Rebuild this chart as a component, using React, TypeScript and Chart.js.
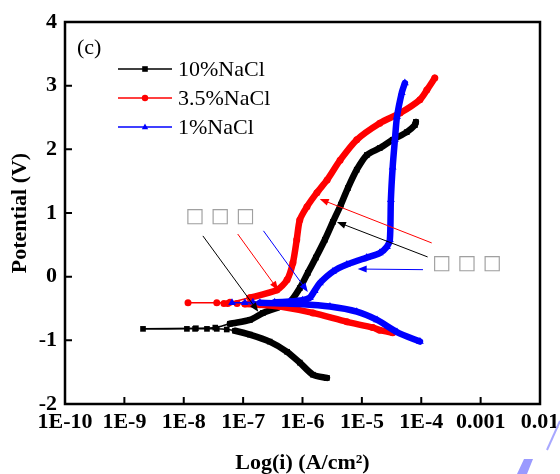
import React, { useEffect, useRef } from 'react';
import { Chart, registerables } from 'chart.js';

Chart.register(...registerables);

const SERIF = "'Liberation Serif', 'Times New Roman', serif";

// ---- series ----
const seriesLabels = ['10%NaCl', '3.5%NaCl', '1%NaCl'];
const seriesColors = ['#000000', '#ff0000', '#0000ff'];
const seriesMarkers = ['rect', 'circle', 'triangle'];

// 10% NaCl (cathodic end -> Ecorr -> anodic end)
const nacl10Current = [
  2.58e-6, 1.5e-6, 9.0e-7, 5.5e-7, 2.8e-7, 1.3e-7, 7.3e-8,
  5.3e-8, 3.6e-8, 2.46e-8, 1.55e-8, 1.13e-8, 2.06e-9,
  1.6e-8, 3.4e-8,
  6.0e-8, 1.3e-7, 2.15e-7, 3.7e-7, 6.1e-7, 9.0e-7, 1.23e-6, 1.68e-6, 2.38e-6, 3.25e-6,
  4.43e-6, 5.8e-6, 8.2e-6, 1.21e-5, 2.0e-5, 3.3e-5, 5.7e-5, 7.8e-5, 8.1e-5,
];
const nacl10Potential = [
  -1.59, -1.54, -1.35, -1.18, -1.02, -0.91, -0.85,
  -0.83, -0.82, -0.82, -0.82, -0.82, -0.82,
  -0.81, -0.8,
  -0.74, -0.68, -0.57, -0.49, -0.4, -0.18, 0.06, 0.3, 0.58, 0.86,
  1.13, 1.39, 1.68, 1.91, 2.02, 2.15, 2.27, 2.38, 2.43,
];

// 3.5% NaCl
const nacl35Current = [
  3.3e-5, 2.0e-5, 1.53e-5, 5.6e-6, 1.5e-6, 4.2e-7,
  1.9e-7, 1.07e-7, 7.9e-8, 5.5e-8, 4.75e-8, 3.6e-8, 1.18e-8,
  6.0e-8, 1.3e-7,
  3.7e-7, 5.5e-7, 6.9e-7, 8.0e-7, 9.0e-7, 1.19e-6, 1.75e-6, 2.6e-6, 4.3e-6, 8.2e-6,
  2.0e-5, 4.4e-5, 9.5e-5, 1.24e-4, 1.69e-4,
];
const nacl35Potential = [
  -0.88, -0.84, -0.8, -0.71, -0.57, -0.47,
  -0.44, -0.43, -0.42, -0.42, -0.42, -0.41, -0.41,
  -0.4, -0.33,
  -0.21, -0.05, 0.22, 0.58, 0.89, 1.1, 1.32, 1.52, 1.83, 2.15,
  2.41, 2.57, 2.78, 2.93, 3.12,
];

// 1% NaCl
const nacl1Current = [
  9.5e-5, 3.9e-5, 1.8e-5, 8.2e-6, 2.9e-6, 9.0e-7, 4.2e-7, 1.92e-7, 1.07e-7, 6.5e-8,
  1.46e-7, 3.4e-7, 6.1e-7, 1.0e-6, 1.33e-6, 1.6e-6, 1.96e-6, 3.25e-6, 5.6e-6, 1.21e-5,
  2.0e-5, 2.64e-5, 2.96e-5, 3.08e-5, 3.3e-5, 3.6e-5, 3.9e-5, 4.7e-5, 5.3e-5,
];
const nacl1Potential = [
  -1.02, -0.87, -0.68, -0.55, -0.47, -0.43, -0.42, -0.41, -0.41, -0.41,
  -0.4, -0.4, -0.39, -0.37, -0.33, -0.22, -0.1, 0.08, 0.19, 0.3,
  0.37, 0.47, 0.58, 1.21, 1.72, 2.15, 2.51, 2.89, 3.04,
];

// ---- axes ----
const xTickValues = [1e-10, 1e-9, 1e-8, 1e-7, 1e-6, 1e-5, 1e-4, 1e-3, 1e-2];
const xTickLabels = ['1E-10', '1E-9', '1E-8', '1E-7', '1E-6', '1E-5', '1E-4', '0.001', '0.01'];
const yTickValues = [-2, -1, 0, 1, 2, 3, 4];
const yTickLabels = ['-2', '-1', '0', '1', '2', '3', '4'];
const xTitle = 'Log(i) (A/cm²)';
const yTitle = 'Potential (V)';

// ---- annotations (data coordinates) ----
const panelLabel = '(c)';
const noteText = '□ □ □';
const notePositions = [
  { x: 4.1e-8, y: 0.94 },
  { x: 5.9e-4, y: 0.2 },
];
const arrows = [
  { series: 0, from: [2.1e-8, 0.64], to: [1.8e-7, -0.55] },
  { series: 1, from: [8.1e-8, 0.67], to: [3.9e-7, -0.21] },
  { series: 2, from: [2.2e-7, 0.72], to: [1.23e-6, -0.24] },
  { series: 1, from: [1.5e-4, 0.53], to: [1.95e-6, 1.22] },
  { series: 0, from: [1.28e-4, 0.31], to: [3.8e-6, 0.86] },
  { series: 2, from: [1.07e-4, 0.11], to: [8.5e-6, 0.12] },
];

// styling constants
const thinBelow = [5.5e-8, 9e-8, 1.5e-7];
const markerRadius = [4, 3.5, 4.5];

const seriesData = [
  nacl10Current.map((c, i) => ({ x: c, y: nacl10Potential[i] })),
  nacl35Current.map((c, i) => ({ x: c, y: nacl35Potential[i] })),
  nacl1Current.map((c, i) => ({ x: c, y: nacl1Potential[i] })),
];

function drawMarker(ctx: CanvasRenderingContext2D, style: string, x: number, y: number, r: number) {
  ctx.beginPath();
  if (style === 'rect') {
    ctx.rect(x - r, y - r, 2 * r, 2 * r);
  } else if (style === 'circle') {
    ctx.arc(x, y, r, 0, Math.PI * 2);
  } else {
    ctx.moveTo(x, y - r * 1.1);
    ctx.lineTo(x + r, y + r * 0.7);
    ctx.lineTo(x - r, y + r * 0.7);
    ctx.closePath();
  }
  ctx.fill();
}

function drawArrow(ctx: CanvasRenderingContext2D, x0: number, y0: number, x1: number, y1: number, color: string) {
  const ang = Math.atan2(y1 - y0, x1 - x0);
  const len = 9;
  const hw = 3.5;
  const c = Math.cos(ang);
  const s = Math.sin(ang);
  ctx.strokeStyle = color;
  ctx.fillStyle = color;
  ctx.lineWidth = 1;
  ctx.beginPath();
  ctx.moveTo(x0, y0);
  ctx.lineTo(x1 - c * len * 0.7, y1 - s * len * 0.7);
  ctx.stroke();
  ctx.beginPath();
  ctx.moveTo(x1, y1);
  ctx.lineTo(x1 - len * c + hw * s, y1 - len * s - hw * c);
  ctx.lineTo(x1 - len * c - hw * s, y1 - len * s + hw * c);
  ctx.closePath();
  ctx.fill();
}

const decorPlugin = {
  id: 'decor',
  afterDraw(chart: any) {
    const { ctx, chartArea: a, scales } = chart;
    const xs = scales.x;
    const ys = scales.y;
    ctx.save();

    // inward tick marks
    ctx.strokeStyle = '#000';
    ctx.lineWidth = 2;
    ctx.beginPath();
    yTickValues.forEach((v) => {
      const py = ys.getPixelForValue(v);
      ctx.moveTo(a.left, py);
      ctx.lineTo(a.left + 7, py);
    });
    xTickValues.forEach((v) => {
      const px = xs.getPixelForValue(v);
      ctx.moveTo(px, a.bottom);
      ctx.lineTo(px, a.bottom - 7);
    });
    ctx.stroke();

    // frame
    ctx.lineWidth = 2.5;
    ctx.strokeRect(a.left, a.top, a.right - a.left, a.bottom - a.top);

    // panel label
    ctx.fillStyle = '#000';
    ctx.font = `22px ${SERIF}`;
    ctx.textBaseline = 'middle';
    ctx.textAlign = 'left';
    ctx.fillText(panelLabel, a.left + 12, a.top + 26);

    // legend
    seriesLabels.forEach((label, i) => {
      const ry = a.top + 47 + i * 29;
      ctx.strokeStyle = seriesColors[i];
      ctx.fillStyle = seriesColors[i];
      ctx.lineWidth = 1.5;
      ctx.beginPath();
      ctx.moveTo(a.left + 53, ry);
      ctx.lineTo(a.left + 107, ry);
      ctx.stroke();
      drawMarker(ctx, seriesMarkers[i], a.left + 80, ry, i === 0 ? 2.8 : 3.2);
      ctx.fillStyle = '#000';
      ctx.font = `22px ${SERIF}`;
      ctx.fillText(label, a.left + 113, ry + 1);
    });

    // arrows
    arrows.forEach((ar) => {
      drawArrow(
        ctx,
        xs.getPixelForValue(ar.from[0]),
        ys.getPixelForValue(ar.from[1]),
        xs.getPixelForValue(ar.to[0]),
        ys.getPixelForValue(ar.to[1]),
        seriesColors[ar.series]
      );
    });

    // notes
    ctx.fillStyle = '#a0a0a0';
    ctx.font = `20px 'DejaVu Sans'`;
    ctx.textAlign = 'center';
    notePositions.forEach((p) => {
      ctx.fillText(noteText, xs.getPixelForValue(p.x), ys.getPixelForValue(p.y));
    });

    // stray decoration at the bottom-right corner
    ctx.fillStyle = '#9a9aff';
    ctx.beginPath();
    ctx.moveTo(517, 474);
    ctx.lineTo(524, 459);
    ctx.lineTo(533, 459);
    ctx.lineTo(527, 474);
    ctx.closePath();
    ctx.fill();
    ctx.strokeStyle = '#a8a8ff';
    ctx.lineWidth = 2;
    ctx.beginPath();
    ctx.moveTo(547, 450);
    ctx.lineTo(560, 421);
    ctx.stroke();

    ctx.restore();
  },
};

const tickFont = { family: SERIF, size: 22, weight: 'bold' as const };
const titleFont = { family: SERIF, size: 22, weight: 'bold' as const, lineHeight: 1 };

export default function App() {
  const ref = useRef<HTMLCanvasElement>(null);

  useEffect(() => {
    if (!ref.current) return;
    const chart = new Chart(ref.current, {
      type: 'line',
      data: {
        datasets: seriesLabels.map((label, i) => ({
          label,
          data: seriesData[i],
          showLine: true,
          borderColor: seriesColors[i],
          backgroundColor: seriesColors[i],
          pointBackgroundColor: seriesColors[i],
          pointBorderColor: seriesColors[i],
          pointBorderWidth: 0,
          pointStyle: seriesMarkers[i],
          pointRadius: markerRadius[i],
          borderWidth: 6.5,
          borderCapStyle: 'round',
          borderJoinStyle: 'round',
          tension: 0.25,
          order: 3 - i,
          segment: {
            borderWidth: (ctx: any) =>
              Math.min(ctx.p0.parsed.x, ctx.p1.parsed.x) < thinBelow[i] ? 1.5 : 6.5,
          },
        })) as any,
      },
      options: {
        responsive: false,
        animation: false,
        events: [],
        layout: { padding: { top: 22, right: 20, bottom: 0, left: 0 } },
        plugins: {
          legend: { display: false },
          tooltip: { enabled: false },
        },
        scales: {
          x: {
            type: 'logarithmic',
            min: 1e-10,
            max: 1e-2,
            grid: { display: false, drawTicks: false },
            border: { display: false },
            ticks: {
              font: tickFont,
              color: '#000',
              padding: 5,
              maxRotation: 0,
              autoSkip: false,
              callback: (_v: any, i: number) => xTickLabels[i],
            },
            afterBuildTicks: (s: any) => {
              s.ticks = xTickValues.map((v) => ({ value: v }));
            },
            afterFit: (s: any) => {
              s.height = 70;
              s.paddingLeft = 0;
              s.paddingRight = 0;
            },
            title: {
              display: true,
              text: xTitle,
              font: titleFont,
              color: '#000',
              padding: { top: 0, bottom: 0 },
            },
          },
          y: {
            type: 'linear',
            min: -2,
            max: 4,
            grid: { display: false, drawTicks: false },
            border: { display: false },
            ticks: {
              font: tickFont,
              color: '#000',
              padding: 8,
              callback: (v: any) => yTickLabels[yTickValues.indexOf(Number(v))],
            },
            afterBuildTicks: (s: any) => {
              s.ticks = yTickValues.map((v) => ({ value: v }));
            },
            afterFit: (s: any) => {
              s.width = 65;
              s.paddingTop = 0;
              s.paddingBottom = 0;
            },
            title: {
              display: true,
              text: yTitle,
              font: titleFont,
              color: '#000',
              padding: { top: 9, bottom: 0 },
            },
          },
        },
      } as any,
      plugins: [decorPlugin],
    });
    return () => chart.destroy();
  }, []);

  return (
    <div style={{ position: 'absolute', left: 0, top: 0, width: 560, height: 474 }}>
      <canvas ref={ref} width={560} height={474} style={{ display: 'block', width: 560, height: 474 }} />
    </div>
  );
}
